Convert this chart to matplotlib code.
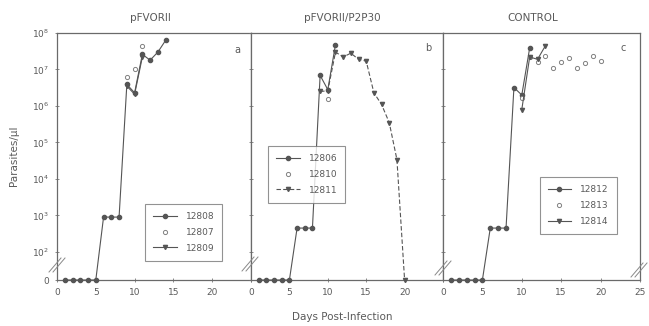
import matplotlib
matplotlib.use("Agg")
import matplotlib.pyplot as plt
from matplotlib.lines import Line2D

plt.rcParams['font.family'] = ['DejaVu Sans']

# ---------------- data ----------------
panel_titles = ["pFVORII", "pFVORII/P2P30", "CONTROL"]
panel_letters = ["a", "b", "c"]
legend_labels = [["12808", "12807", "12809"],
                 ["12806", "12810", "12811"],
                 ["12812", "12813", "12814"]]

# panel a
a_days1 = [1, 2, 3, 4, 5, 6, 7, 8, 9, 10, 11, 12, 13, 14]
a_vals1 = [0, 0, 0, 0, 0, 900, 900, 900, 3.9e6, 2.3e6, 2.6e7, 1.8e7, 3.0e7, 6.3e7]
a_days2 = [9, 10, 11]
a_vals2 = [6.3e6, 1.0e7, 4.5e7]
a_days3 = [9, 10, 11]
a_vals3 = [3.5e6, 2.1e6, 2.2e7]

# panel b
b_days1 = [1, 2, 3, 4, 5, 6, 7, 8, 9, 10, 11]
b_vals1 = [0, 0, 0, 0, 0, 450, 450, 450, 6.9e6, 2.8e6, 4.8e7]
b_days2 = [10]
b_vals2 = [1.6e6]
b_days3 = [9, 10, 11, 12, 13, 14, 15, 16, 17, 18, 19, 20]
b_vals3 = [2.5e6, 2.6e6, 3.0e7, 2.2e7, 2.8e7, 1.9e7, 1.7e7, 2.3e6, 1.1e6, 3.5e5, 3.4e4, 0]

# panel c
c_days1 = [1, 2, 3, 4, 5, 6, 7, 8, 9, 10, 11]
c_vals1 = [0, 0, 0, 0, 0, 450, 450, 450, 3.2e6, 2.0e6, 3.9e7]
c_days2 = [10, 11, 12, 13, 14, 15, 16, 17, 18, 19, 20]
c_vals2 = [1.7e6, 2.2e7, 1.6e7, 2.3e7, 1.1e7, 1.6e7, 2.1e7, 1.1e7, 1.5e7, 2.4e7, 1.7e7]
c_days3 = [10, 11, 12, 13]
c_vals3 = [8e5, 2.2e7, 1.9e7, 4.5e7]

y_ticks = [0, 1e2, 1e3, 1e4, 1e5, 1e6, 1e7, 1e8]
y_ticklabels = ["0", "10$^2$", "10$^3$", "10$^4$", "10$^5$", "10$^6$", "10$^7$", "10$^8$"]
x_ticks = [0, 5, 10, 15, 20, 25]

# ---------------- style ----------------
ZERO = 10 ** 1.23   # display position of the "0" level (broken axis)
TXT = "#5a5a5a"
LN = "#555555"

W, H = 649, 326
fig = plt.figure(figsize=(W / 100, H / 100), dpi=100)

def fx(px):
    return px / W

def fy(py):
    return 1 - py / H

top_px, bot_px = 33, 280
panels_px = [(57, 251), (251, 443), (443, 640)]

def z(vals):
    return [ZERO if v == 0 else v for v in vals]

series = [
    [(a_days1, a_vals1), (a_days2, a_vals2), (a_days3, a_vals3)],
    [(b_days1, b_vals1), (b_days2, b_vals2), (b_days3, b_vals3)],
    [(c_days1, c_vals1), (c_days2, c_vals2), (c_days3, c_vals3)],
]
legend_pos = [(0.454, 0.308), (0.089, 0.543), (0.49, 0.417)]
tri_ls = ['-', (0, (4, 2)), '-']

for i, (l, r) in enumerate(panels_px):
    ax = fig.add_axes([fx(l), fy(bot_px), fx(r - l), fy(top_px) - fy(bot_px)])
    ax.set_yscale('log')
    ax.set_xlim(0, 25)
    ax.set_ylim(ZERO, 1e8)
    for s in ax.spines.values():
        s.set_color("#6a6a6a")
        s.set_linewidth(0.9)

    (d1, v1), (d2, v2), (d3, v3) = series[i]
    ax.plot(d1, z(v1), color=LN, lw=0.8, marker='o', ms=3.0, mfc=LN, mec=LN,
            clip_on=False, zorder=3, label=legend_labels[i][0])
    ax.plot(d2, z(v2), ls='none', marker='o', ms=3.0, mfc='white', mec="#808080",
            mew=0.7, clip_on=False, zorder=3, label=legend_labels[i][1])
    ax.plot(d3, z(v3), color=LN, lw=0.8, ls=tri_ls[i], marker='v', ms=3.0, mfc=LN,
            mec=LN, clip_on=False, zorder=3, label=legend_labels[i][2])

    ax.set_yticks([ZERO if t == 0 else t for t in y_ticks])
    ax.yaxis.set_minor_locator(matplotlib.ticker.NullLocator())
    if i == 0:
        ax.set_yticklabels(y_ticklabels)
    else:
        ax.set_yticklabels([])
    ax.set_xticks(x_ticks)
    if i < 2:
        ax.set_xticklabels([str(t) for t in x_ticks[:-1]] + [""])
    else:
        ax.set_xticklabels([str(t) for t in x_ticks])
    ax.tick_params(axis='both', direction='inout', length=3, width=0.6,
                   colors="#777777", labelcolor=TXT, labelsize=6.5, pad=4)

    leg = ax.legend(loc='upper left', bbox_to_anchor=legend_pos[i],
                    borderaxespad=0, fontsize=6.5, frameon=True, fancybox=False,
                    edgecolor="#777777", handlelength=2.6, labelspacing=0.75,
                    borderpad=0.9, handletextpad=1.0)
    leg.get_frame().set_linewidth(0.8)
    for t in leg.get_texts():
        t.set_color(TXT)

# titles, letters, axis labels
title_x = [150, 342, 533]
for t, xx in zip(panel_titles, title_x):
    fig.text(fx(xx), fy(18), t, ha='center', va='center', fontsize=7.5, color=TXT)
letter_pos = [(237, 50), (428, 48), (623, 48)]
for t, (xx, yy) in zip(panel_letters, letter_pos):
    fig.text(fx(xx), fy(yy), t, ha='center', va='center', fontsize=7, color=TXT)

fig.text(fx(14), fy(156), "Parasites/µl", rotation=90, ha='center', va='center',
         fontsize=7.5, color=TXT)
fig.text(fx(342), fy(317), "Days Post-Infection", ha='center', va='center',
         fontsize=7.5, color=TXT)

# axis break marks (//)
def brk(xp, yp):
    for off in (-2, 2):
        fig.add_artist(Line2D([fx(xp - 6 + off), fx(xp + 6 + off)],
                              [fy(yp + 7), fy(yp - 7)],
                              color="#888888", lw=0.7))

brk(57, 265)
brk(250, 264)
brk(443, 268)
brk(639, 270)

fig.savefig("out.png", dpi=100, facecolor='white')
